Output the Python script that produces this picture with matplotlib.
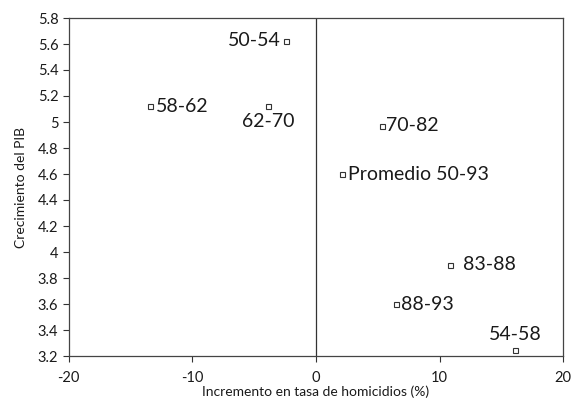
import matplotlib
matplotlib.use("Agg")
import matplotlib.pyplot as plt

plt.rcParams['font.family'] = ['Lato', 'DejaVu Sans']
plt.rcParams['axes.unicode_minus'] = False

# data
periods = ['50-54', '58-62', '62-70', '70-82', 'Promedio 50-93', '83-88', '88-93', '54-58']
homicide_growth = [-2.4, -13.4, -3.9, 5.3, 2.1, 10.8, 6.5, 16.1]
gdp_growth = [5.62, 5.12, 5.12, 4.97, 4.60, 3.90, 3.60, 3.25]

xticks = [-20, -10, 0, 10, 20]
yticks = [3.2, 3.4, 3.6, 3.8, 4.0, 4.2, 4.4, 4.6, 4.8, 5.0, 5.2, 5.4, 5.6, 5.8]
ytick_labels = ['3.2', '3.4', '3.6', '3.8', '4', '4.2', '4.4', '4.6', '4.8', '5', '5.2', '5.4', '5.6', '5.8']

# label placement: (dx points, dy points, ha, va)
offsets = {
    '50-54': (-4, 1, 'right', 'center'),
    '58-62': (4, 0, 'left', 'center'),
    '62-70': (0, -5, 'center', 'top'),
    '70-82': (3, 0, 'left', 'center'),
    'Promedio 50-93': (4, 0, 'left', 'center'),
    '83-88': (10, 0, 'left', 'center'),
    '88-93': (3, 0, 'left', 'center'),
    '54-58': (0, 5, 'center', 'bottom'),
}

fig = plt.figure(figsize=(5.73, 4.0), dpi=100)
ax = fig.add_axes([0.120, 0.110, 0.863, 0.845])

ax.plot(homicide_growth, gdp_growth, linestyle='none', marker='s', markersize=3.6,
        markerfacecolor='white', markeredgecolor='#333333', markeredgewidth=0.8)

for p, x, y in zip(periods, homicide_growth, gdp_growth):
    dx, dy, ha, va = offsets[p]
    ax.annotate(p, (x, y), xytext=(dx, dy), textcoords='offset points',
                ha=ha, va=va, fontsize=14, color='#1a1a1a')

ax.axvline(0, color='#333333', linewidth=0.9)

ax.set_xlim(-20, 20)
ax.set_ylim(3.2, 5.8)
ax.set_xticks(xticks)
ax.set_yticks(yticks, ytick_labels)
ax.tick_params(direction='out', length=4, width=0.8, labelsize=10.5, colors='#333333',
               labelcolor='#1a1a1a')
ax.tick_params(axis='x', pad=7)
for s in ax.spines.values():
    s.set_color('#444444')
    s.set_linewidth(0.9)

ax.set_xlabel('Incremento en tasa de homicidios (%)', fontsize=10, labelpad=0, color='#1a1a1a')
ax.set_ylabel('Crecimiento del PIB', fontsize=10, labelpad=8, color='#1a1a1a')

fig.savefig('out.png', dpi=100)
